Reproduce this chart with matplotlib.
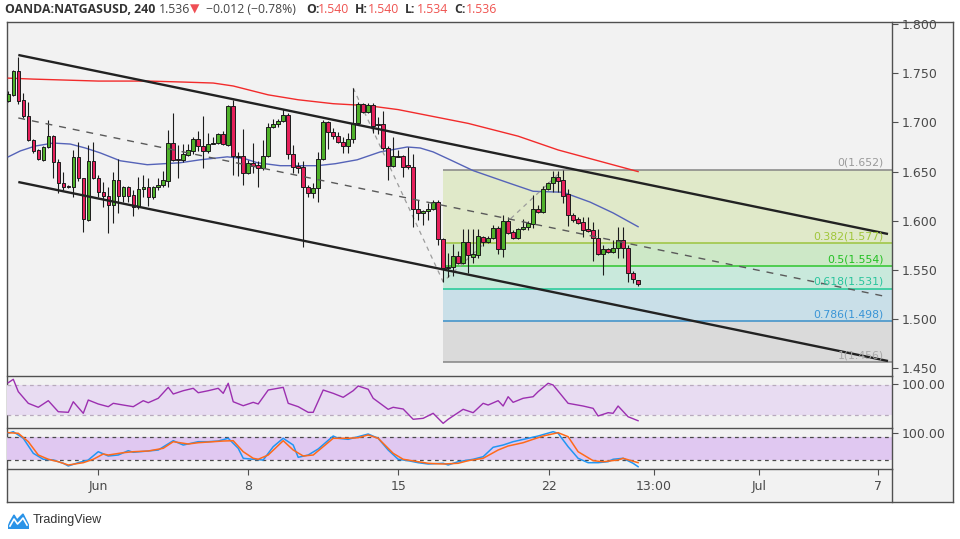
import numpy as np
import matplotlib
matplotlib.use("Agg")
import matplotlib.pyplot as plt
from matplotlib.patches import Polygon

# ---- 4h candles (bar index 0..126) ----
opens = [1.722, 1.728, 1.752, 1.723, 1.706, 1.682, 1.672, 1.662, 1.675, 1.686,
         1.660, 1.638, 1.635, 1.634, 1.665, 1.643, 1.601, 1.661, 1.643, 1.629,
         1.625, 1.616, 1.641, 1.625, 1.634, 1.626, 1.614, 1.632, 1.634, 1.624,
         1.634, 1.636, 1.640, 1.679, 1.663, 1.662, 1.667, 1.671, 1.683, 1.676,
         1.671, 1.678, 1.679, 1.688, 1.677, 1.717, 1.666, 1.666, 1.649, 1.659,
         1.657, 1.654, 1.666, 1.695, 1.698, 1.701, 1.708, 1.668, 1.655, 1.655,
         1.634, 1.628, 1.633, 1.663, 1.700, 1.690, 1.686, 1.680, 1.676, 1.683,
         1.699, 1.719, 1.711, 1.718, 1.698, 1.698, 1.674, 1.656, 1.666, 1.666,
         1.656, 1.655, 1.612, 1.608, 1.610, 1.612, 1.619, 1.582, 1.552, 1.553,
         1.564, 1.557, 1.578, 1.563, 1.565, 1.584, 1.578, 1.583, 1.593, 1.571,
         1.600, 1.589, 1.583, 1.592, 1.594, 1.597, 1.612, 1.609, 1.632, 1.638,
         1.645, 1.641, 1.627, 1.606, 1.602, 1.599, 1.592, 1.591, 1.583, 1.566,
         1.571, 1.568, 1.572, 1.580, 1.572, 1.547, 1.540]
highs = [1.732, 1.753, 1.766, 1.730, 1.721, 1.683, 1.673, 1.676, 1.702, 1.687,
         1.663, 1.650, 1.636, 1.672, 1.680, 1.644, 1.677, 1.680, 1.647, 1.639,
         1.634, 1.650, 1.663, 1.635, 1.635, 1.631, 1.645, 1.647, 1.644, 1.635,
         1.644, 1.651, 1.692, 1.710, 1.677, 1.678, 1.678, 1.685, 1.691, 1.707,
         1.689, 1.685, 1.689, 1.691, 1.718, 1.723, 1.670, 1.693, 1.662, 1.679,
         1.661, 1.682, 1.699, 1.703, 1.703, 1.714, 1.710, 1.677, 1.660, 1.661,
         1.636, 1.638, 1.670, 1.702, 1.701, 1.694, 1.690, 1.685, 1.689, 1.735,
         1.721, 1.720, 1.720, 1.720, 1.705, 1.712, 1.676, 1.685, 1.672, 1.667,
         1.675, 1.668, 1.621, 1.611, 1.618, 1.621, 1.621, 1.583, 1.567, 1.576,
         1.569, 1.592, 1.592, 1.592, 1.592, 1.585, 1.585, 1.596, 1.595, 1.606,
         1.604, 1.591, 1.593, 1.602, 1.600, 1.626, 1.616, 1.635, 1.639, 1.651,
         1.651, 1.652, 1.632, 1.608, 1.604, 1.604, 1.604, 1.599, 1.592, 1.575,
         1.572, 1.580, 1.594, 1.594, 1.575, 1.549, 1.540]
lows = [1.721, 1.727, 1.719, 1.704, 1.681, 1.669, 1.662, 1.661, 1.674, 1.644,
        1.628, 1.631, 1.633, 1.624, 1.640, 1.589, 1.600, 1.642, 1.624, 1.614,
        1.588, 1.598, 1.608, 1.619, 1.619, 1.605, 1.612, 1.624, 1.615, 1.622,
        1.631, 1.634, 1.634, 1.661, 1.643, 1.660, 1.666, 1.668, 1.671, 1.654,
        1.669, 1.678, 1.678, 1.677, 1.676, 1.647, 1.646, 1.636, 1.648, 1.649,
        1.634, 1.652, 1.665, 1.694, 1.695, 1.700, 1.663, 1.649, 1.649, 1.573,
        1.624, 1.623, 1.619, 1.662, 1.673, 1.683, 1.679, 1.669, 1.669, 1.679,
        1.698, 1.710, 1.710, 1.689, 1.688, 1.672, 1.641, 1.655, 1.665, 1.645,
        1.653, 1.594, 1.601, 1.596, 1.601, 1.611, 1.575, 1.538, 1.543, 1.544,
        1.556, 1.556, 1.547, 1.557, 1.562, 1.574, 1.577, 1.581, 1.566, 1.563,
        1.587, 1.581, 1.582, 1.591, 1.591, 1.593, 1.608, 1.608, 1.631, 1.629,
        1.629, 1.618, 1.595, 1.599, 1.597, 1.584, 1.589, 1.559, 1.565, 1.545,
        1.567, 1.567, 1.562, 1.562, 1.538, 1.537, 1.534]
closes = [1.729, 1.752, 1.722, 1.706, 1.682, 1.671, 1.663, 1.675, 1.686, 1.660,
          1.638, 1.634, 1.634, 1.665, 1.643, 1.602, 1.661, 1.643, 1.629, 1.625,
          1.616, 1.641, 1.625, 1.634, 1.625, 1.614, 1.632, 1.634, 1.624, 1.634,
          1.636, 1.641, 1.679, 1.662, 1.662, 1.668, 1.672, 1.683, 1.676, 1.671,
          1.678, 1.679, 1.688, 1.678, 1.717, 1.666, 1.665, 1.649, 1.659, 1.656,
          1.654, 1.666, 1.695, 1.698, 1.701, 1.708, 1.668, 1.655, 1.654, 1.634,
          1.628, 1.633, 1.663, 1.700, 1.690, 1.686, 1.680, 1.676, 1.683, 1.699,
          1.719, 1.711, 1.718, 1.696, 1.697, 1.674, 1.656, 1.666, 1.665, 1.655,
          1.655, 1.612, 1.608, 1.610, 1.612, 1.619, 1.582, 1.552, 1.553, 1.564,
          1.557, 1.578, 1.565, 1.566, 1.585, 1.578, 1.583, 1.593, 1.571, 1.600,
          1.588, 1.583, 1.592, 1.594, 1.598, 1.612, 1.609, 1.632, 1.638, 1.645,
          1.640, 1.625, 1.606, 1.601, 1.598, 1.591, 1.590, 1.583, 1.566, 1.571,
          1.568, 1.572, 1.580, 1.572, 1.547, 1.541, 1.536]

# ---- moving averages (sampled off the chart) ----
ma_red_idx = [0, 5, 18, 28, 35, 41, 45, 52, 58, 65, 72, 78, 85, 92, 102, 110, 118, 126]
ma_red_val = [1.745, 1.744, 1.742, 1.742, 1.741, 1.740, 1.737, 1.728, 1.723, 1.719,
              1.717, 1.713, 1.706, 1.699, 1.686, 1.672, 1.661, 1.650]
ma_blue_idx = [0, 2.4, 5.4, 9, 12.4, 15.4, 18.4, 22.4, 27.8, 34.4, 38.4, 43.8, 47.4,
               49.8, 54.4, 61.8, 65.4, 69.8, 74.4, 79.8, 82.4, 85, 88.4, 93, 96.4,
               99.8, 105, 111, 116.4, 121, 126]
ma_blue_val = [1.665, 1.671, 1.676, 1.679, 1.678, 1.674, 1.669, 1.661, 1.657, 1.659,
               1.662, 1.665, 1.663, 1.659, 1.656, 1.656, 1.658, 1.662, 1.670, 1.675,
               1.674, 1.670, 1.662, 1.651, 1.645, 1.639, 1.630, 1.629, 1.619, 1.608,
               1.594]

# ---- drawings ----
chan_upper = [(2, 1.7685), (176, 1.5866)]
chan_lower = [(2, 1.6394), (176, 1.4575)]
chan_mid = [(2, 1.7045), (176, 1.5226)]
fib_path = [(69, 1.735), (87, 1.538), (111, 1.652)]
fib_start = 87
fib_ratios = ["0", "0.382", "0.5", "0.618", "0.786", "1"]
fib_prices = [1.652, 1.577, 1.554, 1.531, 1.498, 1.456]

# ---- RSI ----
rsi_idx = [0, 1, 2, 4, 6, 8, 10, 12, 13, 15, 16, 18, 20, 21, 23, 25, 27, 28, 30, 32,
           33, 35, 37, 38, 40, 42, 43, 44, 45, 47, 49, 50, 52, 55, 56, 58, 60, 61, 63,
           65, 67, 69, 70, 72, 73, 76, 77, 79, 81, 83, 85, 87, 88, 91, 93, 95, 96, 98,
           99, 100, 101, 103, 105, 106, 108, 109, 112, 115, 117, 118, 120, 121, 122,
           124, 126]
rsi_val = [73.1, 77.6, 61.1, 45.6, 40.3, 49.1, 34.4, 33.6, 47.7, 32.3, 50.0, 44.7,
           41.1, 45.6, 43.3, 41.1, 49.1, 46.4, 52.3, 66.9, 58.0, 62.4, 65.6, 59.7,
           62.4, 65.6, 58.9, 72.3, 47.7, 42.4, 46.9, 44.7, 63.3, 66.9, 45.6, 41.1,
           33.6, 33.6, 63.3, 58.9, 53.6, 62.4, 68.7, 64.3, 52.3, 37.6, 40.3, 38.0,
           24.3, 25.6, 32.3, 18.9, 24.3, 37.6, 33.1, 45.6, 43.3, 49.1, 42.0, 54.4,
           46.9, 52.3, 54.4, 61.1, 72.3, 70.0, 45.6, 42.0, 38.9, 28.7, 33.1, 32.3,
           42.0, 27.7, 22.4]

# ---- Stochastic ----
k_idx = [0, 1, 3, 5, 7, 9, 11, 12, 14, 16, 18, 20, 22, 24, 25, 28, 30, 33, 35, 38,
         40, 42, 44, 46, 47, 49, 51, 53, 55, 57, 58, 60, 62, 65, 66, 68, 70, 72, 74,
         76, 78, 80, 82, 84, 87, 88, 90, 93, 95, 97, 99, 101, 104, 106, 109, 110,
         112, 114, 116, 118, 120, 121, 123, 125, 126]
k_val = [90.6, 94.8, 77.4, 37.7, 21.9, 20.0, 11.3, 4.1, 12.9, 20.0, 41.9, 30.6, 33.2,
         44.6, 40.4, 43.8, 46.4, 71.0, 59.6, 68.4, 68.4, 70.2, 77.4, 50.9, 24.5, 21.9,
         20.0, 55.2, 77.4, 59.6, 27.1, 33.2, 49.1, 83.4, 77.4, 74.7, 81.6, 88.7, 77.4,
         46.4, 21.9, 18.2, 12.9, 9.4, 11.3, 6.8, 15.5, 21.9, 28.7, 53.6, 59.6, 68.4,
         77.4, 83.4, 94.8, 90.6, 55.2, 24.5, 12.9, 12.9, 15.5, 21.9, 24.5, 11.3, 2.3]
d_idx = [0, 2, 4, 6, 8, 10, 12, 15, 17, 19, 20, 23, 25, 28, 31, 33, 36, 38, 41, 43,
         45, 47, 49, 50, 52, 55, 57, 59, 61, 63, 65, 68, 70, 72, 74, 77, 79, 82, 84,
         87, 90, 92, 95, 98, 100, 103, 105, 107, 110, 112, 114, 117, 119, 122, 123,
         126]
d_val = [92.2, 90.6, 68.4, 33.2, 21.9, 15.5, 6.8, 12.9, 21.9, 35.9, 33.2, 39.3, 41.9,
         43.8, 50.9, 68.4, 62.3, 65.7, 68.4, 70.2, 71.0, 41.9, 24.5, 21.9, 33.2, 71.0,
         46.4, 30.6, 33.2, 55.2, 77.4, 77.4, 78.9, 86.1, 77.4, 37.7, 21.9, 15.5, 11.3,
         9.4, 11.3, 18.2, 24.5, 46.4, 57.0, 65.7, 74.7, 83.4, 92.2, 81.6, 41.9, 18.2,
         15.5, 20.0, 24.5, 12.9]

time_pos = [18, 48, 78, 108.2, 129.2, 150.2, 174]
time_lab = ["Jun", "8", "15", "22", "13:00", "Jul", "7"]
price_ticks = [1.45, 1.50, 1.55, 1.60, 1.65, 1.70, 1.75, 1.80]

W, H = 960, 539
GREEN, RED = "#4fb12a", "#e5205b"
EDGE = "#1c1c1c"
FRAME = "#505050"
TXT = "#4a4a4a"
XLIM = (-0.26, 176.74)


def rect(l, t, r, b):
    return [l / W, 1 - b / H, (r - l) / W, (b - t) / H]


def style(a):
    a.set_facecolor("none")
    a.set_xlim(*XLIM)
    for s in a.spines.values():
        s.set_color(FRAME)
        s.set_linewidth(1)
    a.spines["left"].set_visible(False)
    a.spines["top"].set_visible(False)
    a.tick_params(axis="x", bottom=False, labelbottom=False)
    a.yaxis.tick_right()
    a.tick_params(axis="y", direction="out", length=4, width=0.8, color=FRAME,
                  labelsize=9, labelcolor=TXT, pad=3)


fig = plt.figure(figsize=(W / 100, H / 100), dpi=100)
fig.patch.set_facecolor("white")

bg = fig.add_axes(rect(7, 22, 953, 502))
bg.set_facecolor("#f2f2f2")
bg.set_xticks([])
bg.set_yticks([])
for s in bg.spines.values():
    s.set_color(FRAME)
    s.set_linewidth(1)

ax = fig.add_axes(rect(7, 22, 891.7, 376))
ax_r = fig.add_axes(rect(7, 376, 891.7, 428))
ax_s = fig.add_axes(rect(7, 428, 891.7, 469))
ax_t = fig.add_axes(rect(7, 469, 891.7, 502))
for a in (ax, ax_r, ax_s, ax_t):
    style(a)

# ---- price panel ----
ax.set_ylim(1.44228, 1.80203)
ax.set_yticks(price_ticks)
ax.set_yticklabels([f"{p:.3f}" for p in price_ticks])

# fib zones
fib_fill = ["#e0e9c9", "#cde8c7", "#c9e9dc", "#c9dfe8", "#dadada"]
fib_line = ["#858585", "#9cc43e", "#2ec52e", "#1fca95", "#3a8fc8", "#858585"]
fib_text = ["#9a9a9a", "#a0c63a", "#22c022", "#27c49c", "#3a95d6", "#a8a8a8"]
for k in range(len(fib_prices) - 1):
    ax.fill_between([fib_start, XLIM[1]], fib_prices[k + 1], fib_prices[k],
                    color=fib_fill[k], lw=0, zorder=1)
for k, p in enumerate(fib_prices):
    ax.hlines(p, fib_start, XLIM[1], color=fib_line[k], lw=1.1, zorder=1.5)
    ax.annotate(f"{fib_ratios[k]}({p:.3f})", xy=(1, p),
                xycoords=("axes fraction", "data"), xytext=(-8, 2),
                textcoords="offset pixels", ha="right", va="bottom",
                fontsize=7.8, color=fib_text[k], zorder=6)

# moving averages
ax.plot(ma_red_idx, ma_red_val, color="#f22b2b", lw=1.0, zorder=2)
ax.plot(ma_blue_idx, ma_blue_val, color="#5563b8", lw=1.0, zorder=2)

# candles
idx = np.arange(len(opens))
o, h, l, c = (np.array(v) for v in (opens, highs, lows, closes))
up = c >= o
ax.vlines(idx, l, h, color=EDGE, lw=0.8, zorder=3)
ax.bar(idx, np.maximum(np.abs(c - o), 0.0012), bottom=np.minimum(o, c),
       width=0.7, color=np.where(up, GREEN, RED), edgecolor=EDGE,
       linewidth=0.7, zorder=4)

# channel + drawings
for line in (chan_upper, chan_lower):
    xs, ys = zip(*line)
    ax.plot(xs, ys, color="#222222", lw=1.7, zorder=5, solid_capstyle="butt")
xs, ys = zip(*chan_mid)
ax.plot(xs, ys, color="#5a5a5a", lw=1.0, ls=(0, (5, 5)), zorder=5)
xs, ys = zip(*fib_path)
ax.plot(xs, ys, color="#9c9c9c", lw=0.9, ls=(0, (3.5, 3.5)), zorder=2.5)

# ---- RSI panel ----
ax_r.set_ylim(12.7, 82)
ax_r.axhspan(30, 70, color="#e8dcf2", lw=0, zorder=1)
for v in (30, 70):
    ax_r.axhline(v, color="#b8aabd", lw=0.9, ls=(0, (3, 3)), zorder=2)
ax_r.plot(rsi_idx, rsi_val, color="#9c2fb0", lw=1.0, zorder=3)
ax_r.set_yticks([71.5])
ax_r.set_yticklabels(["100.00"])

# ---- Stochastic panel ----
ax_s.set_ylim(-3.8, 104.6)
ax_s.axhspan(20, 80, color="#e0c8f1", lw=0, zorder=1)
for v in (20, 80):
    ax_s.axhline(v, color="#4a4a4a", lw=0.9, ls=(0, (3, 3)), zorder=2)
ax_s.plot(k_idx, k_val, color="#2196f3", lw=1.1, zorder=3)
ax_s.plot(d_idx, d_val, color="#ff6a1a", lw=1.1, zorder=3)
ax_s.set_yticks([92])
ax_s.set_yticklabels(["100.00"])

# ---- time axis ----
ax_t.set_ylim(0, 1)
ax_t.set_yticks([])
ax_t.spines["bottom"].set_visible(False)
ax_t.xaxis.tick_top()
ax_t.set_xticks(time_pos)
ax_t.tick_params(axis="x", top=True, labeltop=False, direction="in",
                 length=4, width=0.8, color=FRAME)
for p, lab in zip(time_pos, time_lab):
    ax_t.text(p, 0.46, lab, ha="center", va="center", fontsize=9, color=TXT)

# ---- header (runs placed at their measured x) ----
header = [(5, "OANDA:NATGASUSD, 240", "#333333", "bold"),
          (159, "1.536", "#444444", "normal"),
          (190, "\u25bc", "#ef4f55", "normal"),
          (206, "\u22120.012 (\u22120.78%)", "#444444", "normal"),
          (306, "O:", "#333333", "bold"), (318, "1.540", "#ef5350", "normal"),
          (355, "H:", "#333333", "bold"), (368, "1.540", "#ef5350", "normal"),
          (405, "L:", "#333333", "bold"), (417, "1.534", "#ef5350", "normal"),
          (454, "C:", "#333333", "bold"), (466, "1.536", "#ef5350", "normal")]
for x, txt, col, wt in header:
    fam = ["Open Sans", "DejaVu Sans"]
    fig.text(x / W, 1 - 9.5 / H, txt, color=col, fontsize=8.8, fontweight=wt,
             va="center", ha="left", family=fam)

# ---- TradingView logo ----
lg = fig.add_axes(rect(8, 512, 29, 529))
lg.set_xlim(0, 21)
lg.set_ylim(0, 17)
lg.axis("off")
lg.add_patch(Polygon([(0, 2), (2, 7), (6, 14), (9, 9), (12, 12), (15, 15), (18, 9),
                      (21, 3), (21, 0), (0, 0)], closed=True, color="#2a93e8"))
lg.plot([2, 6, 9.5, 12.5, 15, 19], [3, 10, 5, 8, 11, 4], color="white", lw=1.2)
fig.text(33 / W, 1 - 520 / H, "TradingView", fontsize=9, color="#333333",
         va="center", ha="left", family="Liberation Sans")

fig.savefig("out.png", dpi=100, facecolor="white")
